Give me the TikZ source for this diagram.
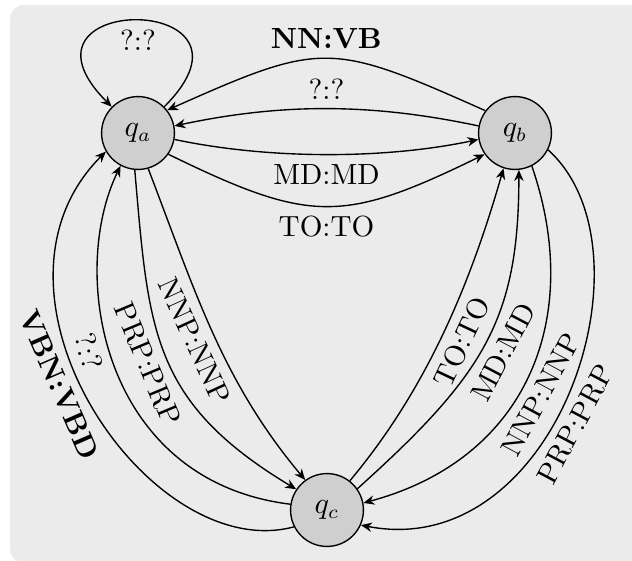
\documentclass[tikz,border=0pt]{standalone}
\usetikzlibrary{arrows.meta}
\definecolor{panel}{RGB}{235,235,235}
\definecolor{statefill}{RGB}{207,207,207}
\begin{document}
\begin{tikzpicture}[x=0.3636pt,y=0.3636pt,
  every node/.style={font=\fontsize{10.6pt}{12.7pt}\selectfont},
  stnode/.style={circle,draw,fill=statefill,line width=0.5pt,minimum size=26.5pt,inner sep=0pt},
  trans/.style={line width=0.5pt,-{Stealth[length=4pt,width=3.4pt,inset=1.3pt]}},
  lbl/.style={inner sep=3.3pt},
]
\useasboundingbox (0,0) rectangle (632,-560);
% grey panel behind the automaton
\fill[panel,rounded corners=5pt] (10,-5) rectangle (660,-563);

% states
\node[stnode] (qa) at (138,-133) {$q_a$};
\node[stnode] (qb) at (515,-133) {$q_b$};
\node[stnode] (qc) at (327,-510) {$q_c$};

% self loop on q_a
\draw[trans] (qa.45) .. controls +(45:163) and +(135:163) .. (qa.135)
  node[lbl,pos=0.5,below] {?:?};

% between q_a and q_b
\draw[trans] (qb.143) .. controls +(156:170) and +(24:170) .. (qa.38)
  node[lbl,pos=0.5,above] {\textbf{NN:VB}};
\draw[trans] (qb.169) .. controls +(168:110) and +(12:110) .. (qa.11)
  node[lbl,pos=0.5,above] {?:?};
\draw[trans] (qa.-10) .. controls +(-12:96) and +(192:96) .. (qb.190)
  node[lbl,pos=0.5,below] {MD:MD};
\draw[trans] (qa.-35) .. controls +(-26:158) and +(206:158) .. (qb.215)
  node[lbl,pos=0.5,below] {TO:TO};

% between q_a and q_c
\draw[trans] (qc.207) .. controls +(195:150) and +(225:200) .. (qa.210)
  node[lbl,pos=0.56,sloped,below] {\textbf{VBN:VBD}};
\draw[trans] (qc.171) .. controls +(173:190) and +(244:120) .. (qa.242)
  node[lbl,pos=0.55,sloped,below] {?:?};
\draw[trans] (qa.265) .. controls +(275:160) and +(149:170) .. (qc.146)
  node[lbl,pos=0.5,sloped,below] {PRP:PRP};
\draw[trans] (qa.286) .. controls +(291:130) and +(130:130) .. (qc.126)
  node[lbl,pos=0.5,sloped,below] {NNP:NNP};

% between q_c and q_b
\draw[trans] (qc.52) .. controls +(50:120) and +(254:120) .. (qb.252)
  node[lbl,pos=0.5,sloped,below] {TO:TO};
\draw[trans] (qc.35) .. controls +(42:170) and +(270:150) .. (qb.276)
  node[lbl,pos=0.5,sloped,below] {MD:MD};
\draw[trans] (qb.297) .. controls +(289:160) and +(15:170) .. (qc.11)
  node[lbl,pos=0.53,sloped,below] {NNP:NNP};
\draw[trans] (qb.333) .. controls +(318:150) and +(349:200) .. (qc.336)
  node[lbl,pos=0.55,sloped,below] {PRP:PRP};
\end{tikzpicture}
\end{document}
